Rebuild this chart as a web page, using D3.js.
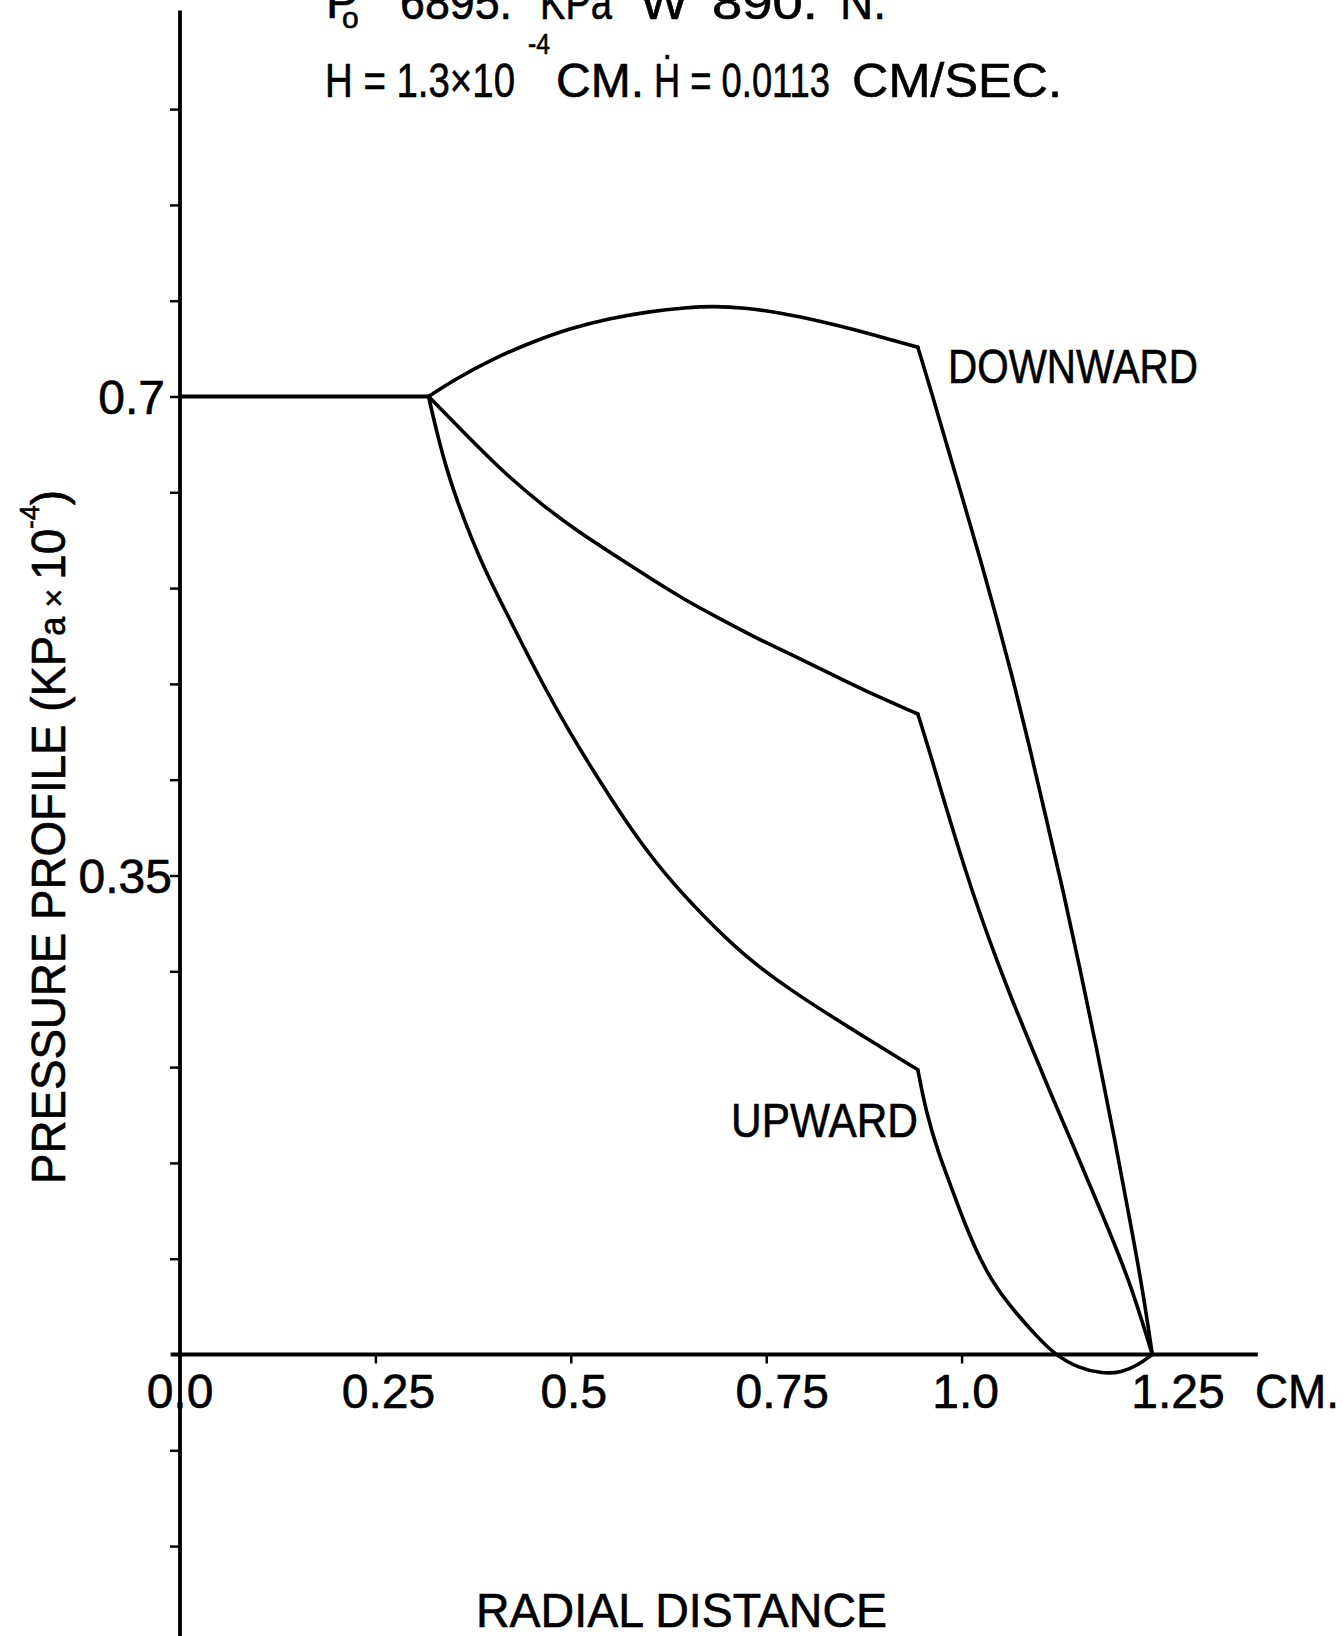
<!DOCTYPE html>
<html>
<head>
<meta charset="utf-8">
<script src="https://cdn.jsdelivr.net/npm/d3@7"></script>
<style>
  html, body { margin: 0; padding: 0; background: #fff; }
  svg { display: block; }
  text { font-family: "Liberation Sans", Arial, sans-serif; fill: #000; stroke: #000; stroke-width: 0.6; }
</style>
</head>
<body>
<svg id="chart" width="1343" height="1636"></svg>
<script>
// ---- tick values and labels ----
const xTickValues = [0, 0.25, 0.5, 0.75, 1.0, 1.25];
const xTickLabels = ["0.0", "0.25", "0.5", "0.75", "1.0", "1.25"];
const xMinorTicks = [0.25, 0.5, 0.75, 1.0];
const yTickValues = [0.7, 0.35];
const yTickLabels = ["0.7", "0.35"];
const yMinorTicks = [-0.14, -0.07, 0.07, 0.14, 0.21, 0.28, 0.35, 0.42, 0.49,
                     0.56, 0.63, 0.7, 0.77, 0.84, 0.91];

// ---- pressure profiles (radius in cm, pressure in KPa x 10^-4) ----
const plateau = [[0, 0.7], [0.318, 0.7]];

const downwardArc = [[0.318, 0.700], [0.353, 0.713], [0.402, 0.728], [0.451, 0.740],
  [0.500, 0.750], [0.549, 0.757], [0.599, 0.762], [0.648, 0.765], [0.682, 0.766],
  [0.721, 0.765], [0.770, 0.761], [0.820, 0.755], [0.869, 0.748], [0.918, 0.740],
  [0.944, 0.736]];
const downwardTail = [[0.944, 0.736], [0.961, 0.704], [0.982, 0.663], [1.003, 0.622],
  [1.024, 0.581], [1.045, 0.538], [1.066, 0.493], [1.087, 0.444], [1.108, 0.392],
  [1.130, 0.339], [1.151, 0.283], [1.172, 0.226], [1.195, 0.160], [1.218, 0.090],
  [1.232, 0.046], [1.244, 0]];

const steadyArc = [[0.318, 0.700], [0.373, 0.668], [0.419, 0.642], [0.465, 0.620],
  [0.510, 0.601], [0.556, 0.584], [0.602, 0.567], [0.647, 0.551], [0.693, 0.537],
  [0.739, 0.523], [0.784, 0.511], [0.830, 0.498], [0.876, 0.485], [0.944, 0.468]];
const steadyTail = [[0.944, 0.468], [0.961, 0.437], [0.982, 0.396], [1.003, 0.357],
  [1.024, 0.321], [1.045, 0.288], [1.066, 0.257], [1.090, 0.224], [1.113, 0.192],
  [1.147, 0.147], [1.181, 0.101], [1.215, 0.054], [1.244, 0]];

const upwardArc = [[0.318, 0.700], [0.328, 0.675], [0.341, 0.647], [0.355, 0.623],
  [0.373, 0.596], [0.392, 0.571], [0.414, 0.546], [0.437, 0.520], [0.465, 0.489],
  [0.497, 0.456], [0.538, 0.418], [0.579, 0.382], [0.620, 0.351], [0.670, 0.320],
  [0.720, 0.292], [0.784, 0.265], [0.853, 0.240], [0.944, 0.208]];
const upwardTail = [[0.944, 0.208], [0.955, 0.176], [0.970, 0.148], [0.985, 0.125],
  [1.005, 0.094], [1.025, 0.068], [1.045, 0.048], [1.070, 0.030], [1.095, 0.014],
  [1.119, 0.0], [1.150, -0.010], [1.180, -0.014], [1.205, -0.013], [1.225, -0.008],
  [1.244, 0]];

// ---- layout ----
const svg = d3.select("#chart");
const x = d3.scaleLinear().domain([0, 1.25]).range([180, 1157]);
const y = d3.scaleLinear().domain([0, 0.7]).range([1354.5, 396.5]);
const FS = 48;

// axes: ticks from d3 axes, long axis lines drawn separately
const gx = svg.append("g")
  .attr("transform", `translate(0,${y(0)})`)
  .call(d3.axisBottom(x).tickValues(xMinorTicks).tickSize(9).tickFormat(""));
gx.select(".domain").remove();
gx.selectAll(".tick line").attr("stroke", "#000").attr("stroke-width", 2.5);

const gy = svg.append("g")
  .attr("transform", `translate(${x(0)},0)`)
  .call(d3.axisLeft(y).tickValues(yMinorTicks).tickSize(10).tickFormat(""));
gy.select(".domain").remove();
gy.selectAll(".tick line").attr("stroke", "#000").attr("stroke-width", 2.5);

svg.append("line")
  .attr("x1", x(-0.012)).attr("x2", x(1.379))
  .attr("y1", y(0)).attr("y2", y(0))
  .attr("stroke", "#000").attr("stroke-width", 3.8);
svg.append("line")
  .attr("x1", x(0)).attr("x2", x(0))
  .attr("y1", y(0.982)).attr("y2", y(-0.22))
  .attr("stroke", "#000").attr("stroke-width", 3.8);

// ---- profile curves ----
const smooth = d3.line().x(d => x(d[0])).y(d => y(d[1])).curve(d3.curveBasis);
const straight = d3.line().x(d => x(d[0])).y(d => y(d[1]));

svg.append("path").attr("d", straight(plateau))
  .attr("fill", "none").attr("stroke", "#000").attr("stroke-width", 4.2);
[downwardArc, downwardTail, steadyArc, steadyTail, upwardArc, upwardTail].forEach(seg => {
  svg.append("path").attr("d", smooth(seg))
    .attr("fill", "none").attr("stroke", "#000")
    .attr("stroke-width", 3.6).attr("stroke-linejoin", "round").attr("stroke-linecap", "round");
});

// ---- tick labels ----
const xLabelNudge = [0, 13, 3, 16, 4, 21];
svg.selectAll("text.xlab").data(xTickValues).enter().append("text")
  .attr("class", "xlab")
  .attr("x", (d, i) => x(d) + xLabelNudge[i])
  .attr("y", 1408)
  .attr("text-anchor", "middle")
  .attr("font-size", FS)
  .text((d, i) => xTickLabels[i]);

svg.append("text").attr("x", 1255).attr("y", 1408)
  .attr("font-size", FS).attr("textLength", 84).attr("lengthAdjust", "spacingAndGlyphs")
  .text("CM.");

const yLabelGap = [15, 8];
svg.selectAll("text.ylab").data(yTickValues).enter().append("text")
  .attr("class", "ylab")
  .attr("x", (d, i) => x(0) - yLabelGap[i])
  .attr("y", d => y(d) + 17)
  .attr("text-anchor", "end")
  .attr("font-size", FS)
  .text((d, i) => yTickLabels[i]);

// ---- axis titles ----
svg.append("text").attr("x", 476).attr("y", 1627)
  .attr("font-size", FS).attr("textLength", 411).attr("lengthAdjust", "spacingAndGlyphs")
  .text("RADIAL DISTANCE");

const yTitle = svg.append("text")
  .attr("transform", "translate(65,1184) rotate(-90)")
  .attr("font-size", FS).attr("textLength", 694).attr("lengthAdjust", "spacingAndGlyphs");
yTitle.append("tspan").text("PRESSURE PROFILE (KP");
yTitle.append("tspan").attr("font-size", 36).text("a");
yTitle.append("tspan").attr("font-size", 34).text(" × ");
yTitle.append("tspan").text("10");
yTitle.append("tspan").attr("font-size", 28).attr("dy", -26).text("-4");
yTitle.append("tspan").attr("dy", 26).text(")");

// ---- curve labels ----
svg.append("text").attr("x", 948).attr("y", 383)
  .attr("font-size", FS).attr("textLength", 250).attr("lengthAdjust", "spacingAndGlyphs")
  .text("DOWNWARD");
svg.append("text").attr("x", 731).attr("y", 1137)
  .attr("font-size", FS).attr("textLength", 187).attr("lengthAdjust", "spacingAndGlyphs")
  .text("UPWARD");

// ---- operating conditions ----
const cond1 = [
  { t: "P", x: 326, y: 18, fs: FS },
  { t: "o", x: 342, y: 28, fs: 30 },
  { t: "6895.", x: 400, y: 19, fs: FS, w: 112 },
  { t: "KPa", x: 540, y: 19, fs: FS, w: 72 },
  { t: "W", x: 640, y: 19, fs: FS, w: 48 },
  { t: "890.", x: 712, y: 19, fs: FS, w: 106 },
  { t: "N.", x: 840, y: 19, fs: FS, w: 46 }
];
const cond2 = [
  { t: "H = 1.3×10", x: 325, y: 97, fs: FS, w: 190 },
  { t: "-4", x: 528, y: 54, fs: 30, w: 22 },
  { t: "CM.", x: 556, y: 97, fs: FS, w: 88 },
  { t: "Ḣ = 0.0113", x: 654, y: 97, fs: FS, w: 176 },
  { t: "CM/SEC.", x: 852, y: 97, fs: FS, w: 210 }
];
[...cond1, ...cond2].forEach(c => {
  const t = svg.append("text").attr("x", c.x).attr("y", c.y).attr("font-size", c.fs).text(c.t);
  if (c.w) t.attr("textLength", c.w).attr("lengthAdjust", "spacingAndGlyphs");
});
</script>
</body>
</html>
